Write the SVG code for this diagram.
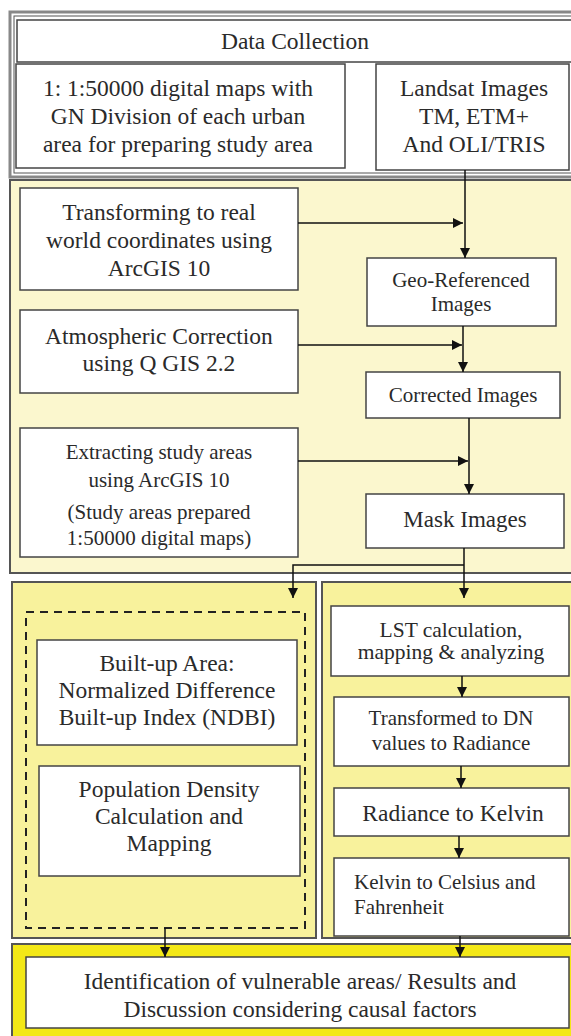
<svg xmlns="http://www.w3.org/2000/svg" width="571" height="1036" viewBox="0 0 571 1036">
<defs>
<marker id="ah" viewBox="0 0 10 10" refX="10" refY="5" markerWidth="10" markerHeight="10" markerUnits="userSpaceOnUse" orient="auto">
<path d="M0,0 L10,5 L0,10 z" fill="#111"/>
</marker>
</defs>
<style>
text{font-family:"Liberation Serif","Times New Roman",serif;fill:#2a2a2a;text-anchor:middle}
.t20{font-size:23.5px}
.t19{font-size:23px}
.t18{font-size:21.5px}
.t17{font-size:21px}
.box{fill:#fff;stroke:#444;stroke-width:1.5}
.sec{stroke:#555;stroke-width:2}
.conn{fill:none;stroke:#111;stroke-width:1.5}
.arr{fill:none;stroke:#111;stroke-width:1.5;marker-end:url(#ah)}
</style>
<rect width="571" height="1036" fill="#fff"/>

<g id="section-data">
<rect x="10" y="12" width="570" height="165" fill="#fff" stroke="#888" stroke-width="3"/>
<rect x="14" y="16" width="570" height="157" fill="none" stroke="#555" stroke-width="1"/>
</g>
<g id="section-preprocess">
<rect class="sec" x="10" y="180" width="570" height="393" fill="#FBF7CE"/>
</g>
<g id="section-left">
<rect class="sec" x="12" y="582" width="304" height="356" fill="#F8F29C"/>
<rect x="26" y="612" width="279" height="316" fill="none" stroke="#222" stroke-width="2" stroke-dasharray="8,6"/>
</g>
<g id="section-right">
<rect class="sec" x="322" y="582" width="260" height="356" fill="#F8F29C"/>
</g>
<g id="section-result">
<rect class="sec" x="12" y="944" width="570" height="100" fill="#F3E817"/>
</g>

<g id="data-collection">
<rect class="box" x="17" y="20" width="556" height="42"/>
<text class="t20" x="295" y="49">Data Collection</text>
</g>
<g id="maps">
<rect class="box" x="16" y="64" width="329" height="104"/>
<text class="t20" x="178" y="96">1: 1:50000 digital maps with</text>
<text class="t20" x="178" y="124">GN Division of each urban</text>
<text class="t20" x="178" y="152">area for preparing study area</text>
</g>
<g id="landsat">
<rect class="box" x="376" y="64" width="193" height="106"/>
<text class="t20" x="474" y="96">Landsat Images</text>
<text class="t20" x="474" y="124">TM, ETM+</text>
<text class="t20" x="474" y="152">And OLI/TRIS</text>
</g>

<g id="transforming">
<rect class="box" x="20" y="188" width="278" height="102"/>
<text class="t20" x="159" y="220">Transforming to real</text>
<text class="t20" x="159" y="248">world coordinates using</text>
<text class="t20" x="159" y="276">ArcGIS 10</text>
</g>
<g id="georef">
<rect class="box" x="367" y="258" width="189" height="68"/>
<text class="t17" x="461" y="287">Geo-Referenced</text>
<text class="t17" x="461" y="311">Images</text>
</g>
<g id="atmospheric">
<rect class="box" x="20" y="310" width="278" height="83"/>
<text class="t20" x="159" y="344">Atmospheric Correction</text>
<text class="t20" x="159" y="371">using Q GIS 2.2</text>
</g>
<g id="corrected">
<rect class="box" x="366" y="372" width="194" height="46"/>
<text class="t17" x="463" y="402">Corrected Images</text>
</g>
<g id="extracting">
<rect class="box" x="20" y="428" width="278" height="129"/>
<text class="t17" x="159" y="459">Extracting study areas</text>
<text class="t17" x="159" y="487">using ArcGIS 10</text>
<text class="t17" x="159" y="519">(Study areas prepared</text>
<text class="t17" x="159" y="545">1:50000 digital maps)</text>
</g>
<g id="mask">
<rect class="box" x="366" y="494" width="198" height="54"/>
<text class="t19" x="465" y="527">Mask Images</text>
</g>

<g id="builtup">
<rect class="box" x="37" y="640" width="260" height="105"/>
<text class="t20" x="167" y="671">Built-up Area:</text>
<text class="t20" x="167" y="698">Normalized Difference</text>
<text class="t20" x="167" y="725">Built-up Index (NDBI)</text>
</g>
<g id="population">
<rect class="box" x="39" y="766" width="261" height="110"/>
<text class="t20" x="169" y="797">Population Density</text>
<text class="t20" x="169" y="824">Calculation and</text>
<text class="t20" x="169" y="851">Mapping</text>
</g>
<g id="lst">
<rect class="box" x="331" y="606" width="238" height="70"/>
<text class="t18" x="451" y="637">LST calculation,</text>
<text class="t18" x="451" y="659">mapping &amp; analyzing</text>
</g>
<g id="dn">
<rect class="box" x="334" y="697" width="235" height="69"/>
<text class="t17" x="451" y="725">Transformed to DN</text>
<text class="t17" x="451" y="750">values to Radiance</text>
</g>
<g id="radiance">
<rect class="box" x="334" y="788" width="235" height="48"/>
<text class="t20" x="453" y="821">Radiance to Kelvin</text>
</g>
<g id="kelvin">
<rect class="box" x="334" y="858" width="235" height="78"/>
<text class="t17" x="354" y="889" style="text-anchor:start">Kelvin to Celsius and</text>
<text class="t17" x="354" y="914" style="text-anchor:start">Fahrenheit</text>
</g>
<g id="identification">
<rect class="box" x="26" y="957" width="543" height="71"/>
<text class="t20" x="300" y="989">Identification of vulnerable areas/ Results and</text>
<text class="t20" x="300" y="1017">Discussion considering causal factors</text>
</g>

<g id="connectors">
<line class="arr" x1="465" y1="170" x2="465" y2="258"/>
<line class="arr" x1="298" y1="223" x2="463" y2="223"/>
<line class="arr" x1="463" y1="326" x2="463" y2="372"/>
<line class="arr" x1="298" y1="345" x2="462" y2="345"/>
<line class="arr" x1="469" y1="418" x2="469" y2="494"/>
<line class="arr" x1="298" y1="461" x2="468" y2="461"/>
<line class="arr" x1="464" y1="548" x2="464" y2="598"/>
<polyline class="arr" points="464,565 293,565 293,598"/>
<line class="arr" x1="462" y1="676" x2="462" y2="697"/>
<line class="arr" x1="461" y1="766" x2="461" y2="788"/>
<line class="arr" x1="459" y1="836" x2="459" y2="858"/>
<line class="arr" x1="460" y1="936" x2="460" y2="957"/>
<line class="arr" x1="165" y1="928" x2="165" y2="957"/>
</g>
</svg>
